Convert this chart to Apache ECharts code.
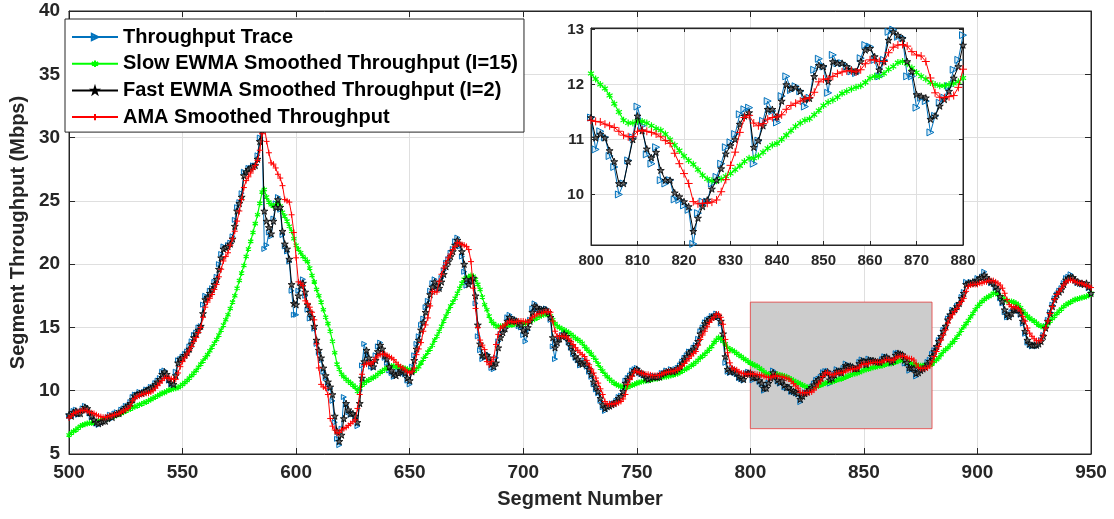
<!DOCTYPE html>
<html>
<head>
<meta charset="utf-8">
<script src="https://cdn.jsdelivr.net/npm/echarts@6/dist/echarts.min.js"></script>
<style>
  html, body { margin: 0; padding: 0; background: #fff; }
  #chart { width: 1114px; height: 519px; }
</style>
</head>
<body>
<div id="chart"></div>
<script>
// Segment numbers run from 500 to 950, one value per segment.
const firstSegment = 500;

// Raw per-segment throughput (Mbps)
const throughputTrace = [
  8.0, 7.9, 8.4, 8.5, 8.1, 8.2, 8.6, 8.8, 8.5, 8.2,
  7.9, 7.6, 7.4, 7.3, 7.5, 7.6, 7.6, 7.9, 8.1, 7.8,
  8.2, 8.3, 8.1, 8.5, 8.6, 8.8, 8.8, 9.1, 9.5, 9.7,
  9.7, 9.9, 9.7, 9.9, 10.1, 10.1, 10.3, 10.3, 10.6, 10.8,
  11.0, 11.5, 11.6, 11.2, 10.8, 10.5, 10.4, 11.5, 12.4, 12.5,
  12.7, 12.9, 13.1, 13.5, 13.9, 14.4, 14.6, 15.0, 15.1, 16.8,
  17.5, 17.4, 17.9, 18.1, 18.6, 19.0, 20.0, 20.8, 21.4, 21.3,
  21.5, 21.7, 22.2, 23.5, 24.5, 24.9, 25.6, 27.3, 27.2, 27.6,
  27.6, 27.8, 27.8, 28.6, 30.0, 30.9, 21.2, 21.5, 22.5, 22.2,
  23.6, 24.8, 25.3, 24.3, 22.3, 21.4, 21.0, 20.2, 17.9, 16.0,
  16.0, 17.9, 18.5, 18.8, 17.5, 16.4, 15.7, 15.8, 14.9, 13.7,
  13.0, 12.4, 11.5, 11.0, 10.5, 10.2, 9.2, 7.5, 6.2, 5.7,
  7.0, 9.5, 8.9, 8.3, 8.1, 8.2, 7.8, 7.2, 10.0, 12.0,
  13.7, 12.8, 12.3, 11.9, 11.8, 12.8, 13.5, 13.8, 13.0, 12.6,
  12.2, 11.6, 11.4, 11.1, 11.2, 11.6, 11.7, 11.4, 11.3, 10.8,
  10.5, 11.9, 12.8, 13.7, 14.3, 15.2, 15.7, 16.6, 17.1, 17.9,
  18.5, 18.8, 18.1, 18.0, 18.9, 19.5, 20.1, 20.4, 20.9, 21.2,
  21.8, 22.1, 21.4, 20.6, 19.4, 18.3, 18.5, 18.9, 18.8, 16.9,
  14.3, 13.2, 12.5, 12.7, 12.9, 12.4, 11.8, 11.7, 12.6, 13.9,
  14.5, 14.8, 15.1, 15.8, 16.0, 15.3, 15.7, 15.4, 15.1, 15.0,
  14.4, 13.9, 14.8, 15.6, 16.5, 16.9, 16.5, 16.3, 16.5, 16.3,
  16.5, 16.1, 15.6, 13.5, 12.5, 13.9, 14.2, 14.4, 14.6, 14.2,
  13.8, 13.4, 12.9, 12.6, 12.4, 12.0, 12.1, 12.4, 11.9, 11.5,
  11.1, 10.5, 10.1, 9.8, 9.2, 8.7, 8.4, 8.8, 8.8, 9.0,
  9.0, 9.2, 9.5, 9.6, 10.1, 10.8, 11.0, 11.2, 11.6, 11.7,
  11.8, 11.4, 11.3, 11.2, 10.9, 10.8, 11.0, 11.2, 11.1, 11.0,
  11.2, 11.4, 11.4, 11.6, 11.4, 11.7, 11.5, 11.7, 11.8, 12.0,
  12.3, 12.6, 12.8, 13.1, 13.1, 13.4, 13.6, 14.1, 14.7, 15.0,
  15.4, 15.6, 15.7, 15.9, 15.9, 16.1, 15.8, 15.3, 14.0, 12.2,
  11.5, 11.4, 11.8, 11.4, 11.3, 11.0, 10.9, 10.8, 11.4, 11.5,
  11.4, 10.82, 11.15, 11.04, 10.7, 10.5, 10.0, 10.2, 10.62, 11.04,
  11.6, 11.25, 10.73, 10.56, 10.86, 10.26, 10.2, 10.26, 9.91, 9.9,
  9.8, 9.72, 9.1, 9.66, 9.87, 9.87, 10.2, 10.32, 10.56, 10.86,
  10.95, 11.1, 11.46, 11.55, 11.58, 10.56, 10.98, 11.34, 11.7, 11.52,
  11.31, 11.79, 12.15, 11.9, 11.97, 11.88, 11.6, 11.76, 12.27, 12.47,
  12.33, 11.85, 12.54, 12.39, 12.39, 12.33, 12.24, 12.21, 12.48, 12.72,
  12.69, 12.45, 12.15, 12.45, 12.96, 13.0, 12.87, 12.85, 12.15, 12.15,
  11.58, 11.76, 11.7, 11.13, 11.43, 11.67, 11.76, 11.97, 12.27, 12.45,
  12.9, 13.2, 13.4, 14.0, 14.2, 14.8, 15.0, 15.7, 15.9, 16.4,
  16.3, 16.7, 16.8, 17.4, 17.8, 18.6, 18.4, 18.6, 18.5, 18.6,
  18.9, 18.8, 19.0, 19.4, 18.8, 18.7, 18.5, 18.6, 18.1, 17.9,
  17.3, 16.9, 16.2, 15.8, 15.8, 16.2, 16.5, 16.5, 16.3, 16.0,
  15.3, 14.5, 13.8, 13.6, 13.5, 13.6, 13.5, 13.8, 14.0, 14.4,
  15.1, 15.6, 16.2, 16.8, 17.3, 17.6, 17.9, 18.1, 18.5, 18.9,
  19.0, 19.2, 18.9, 18.7, 18.5, 18.6, 18.4, 18.5, 18.4, 18.1, 17.6
];

// Slow EWMA (l = 15)
const slowEwma = [
  6.5, 6.65, 6.8, 6.9, 7.05, 7.2, 7.3, 7.35, 7.4, 7.45,
  7.45, 7.5, 7.55, 7.6, 7.65, 7.7, 7.75, 7.8, 7.9, 7.95,
  8.0, 8.1, 8.15, 8.25, 8.3, 8.4, 8.5, 8.55, 8.65, 8.75,
  8.8, 8.9, 8.95, 9.05, 9.1, 9.2, 9.3, 9.4, 9.5, 9.6,
  9.7, 9.8, 9.85, 9.95, 10.05, 10.1, 10.15, 10.2, 10.25, 10.35,
  10.5, 10.65, 10.8, 11.0, 11.2, 11.4, 11.6, 11.85, 12.1, 12.35,
  12.6, 12.85, 13.15, 13.45, 13.75, 14.05, 14.4, 14.8, 15.2, 15.6,
  16.0, 16.5, 17.0, 17.5, 18.1, 18.7, 19.3, 19.9, 20.6, 21.2,
  21.8, 22.5, 23.2, 23.9, 24.8, 25.7, 25.9, 25.3, 24.9, 24.7,
  24.6, 24.7, 24.9, 24.6, 24.1, 23.8, 23.4, 23.0, 22.6, 22.0,
  21.5, 21.2, 20.9, 20.6, 20.4, 20.2, 19.7, 19.1, 18.6, 18.0,
  17.5, 17.0, 16.4, 15.8, 15.3, 14.7, 13.9, 13.0, 12.1, 11.7,
  11.3, 11.1, 10.9, 10.75, 10.6, 10.45, 10.3, 9.95, 10.2, 10.45,
  10.6, 10.75, 10.85, 10.95, 11.05, 11.15, 11.3, 11.45, 11.55, 11.7,
  11.8, 11.9, 11.95, 11.95, 11.9, 11.9, 11.85, 11.8, 11.75, 11.7,
  11.65, 11.6, 11.55, 11.7, 11.9, 12.2, 12.5, 12.75, 13.05, 13.3,
  13.6, 14.0, 14.3, 14.7, 15.1, 15.5, 15.9, 16.3, 16.7, 17.0,
  17.3, 17.7, 18.1, 18.5, 18.8, 18.9, 19.0, 19.1, 19.05, 18.8,
  18.4, 18.0, 17.4, 16.8, 16.4, 15.9, 15.5, 15.3, 15.1, 15.1,
  15.1, 15.1, 15.15, 15.2, 15.2, 15.2, 15.25, 15.3, 15.3, 15.3,
  15.3, 15.35, 15.4, 15.5, 15.6, 15.65, 15.75, 15.85, 15.95, 16.0,
  16.05, 16.0, 15.9, 15.6, 15.3, 15.1, 15.0, 14.9, 14.8, 14.7,
  14.6, 14.45, 14.3, 14.15, 14.05, 13.9, 13.75, 13.5, 13.3, 13.1,
  12.9, 12.65, 12.4, 12.1, 11.8, 11.55, 11.3, 11.1, 10.9, 10.75,
  10.6, 10.5, 10.4, 10.35, 10.3, 10.25, 10.3, 10.35, 10.45, 10.5,
  10.6, 10.65, 10.7, 10.75, 10.8, 10.8, 10.85, 10.9, 10.95, 10.95,
  11.0, 11.05, 11.1, 11.1, 11.15, 11.2, 11.25, 11.3, 11.35, 11.45,
  11.55, 11.65, 11.75, 11.85, 12.0, 12.1, 12.25, 12.4, 12.6, 12.75,
  12.9, 13.1, 13.3, 13.5, 13.8, 14.0, 14.2, 14.1, 13.9, 13.7,
  13.4, 13.3, 13.2, 13.1, 12.95, 12.8, 12.7, 12.55, 12.45, 12.3,
  12.2, 12.1, 12.0, 11.93, 11.8, 11.65, 11.5, 11.35, 11.3, 11.3,
  11.33, 11.33, 11.3, 11.25, 11.2, 11.17, 11.1, 11.0, 10.9, 10.8,
  10.7, 10.62, 10.55, 10.45, 10.35, 10.28, 10.25, 10.25, 10.28, 10.33,
  10.38, 10.45, 10.52, 10.6, 10.66, 10.66, 10.7, 10.77, 10.84, 10.9,
  10.93, 11.0, 11.08, 11.16, 11.24, 11.3, 11.35, 11.38, 11.45, 11.53,
  11.62, 11.68, 11.72, 11.77, 11.84, 11.88, 11.92, 11.95, 11.98, 12.04,
  12.12, 12.15, 12.15, 12.2, 12.28, 12.33, 12.4, 12.42, 12.38, 12.3,
  12.22, 12.15, 12.1, 12.04, 12.0, 11.98, 11.98, 12.0, 12.02, 12.05,
  12.12, 12.3, 12.45, 12.6, 12.85, 13.1, 13.25, 13.4, 13.6, 13.8,
  14.0, 14.25, 14.5, 14.8, 15.05, 15.3, 15.55, 15.85, 16.1, 16.4,
  16.65, 16.85, 17.05, 17.2, 17.35, 17.45, 17.55, 17.7, 17.7, 17.6,
  17.45, 17.35, 17.2, 17.1, 17.05, 17.05, 17.0, 16.9, 16.8, 16.55,
  16.3, 16.1, 15.9, 15.75, 15.6, 15.5, 15.35, 15.2, 15.1, 15.05,
  15.15, 15.3, 15.5, 15.7, 15.9, 16.1, 16.3, 16.45, 16.65, 16.8,
  16.9, 17.0, 17.1, 17.2, 17.25, 17.3, 17.35, 17.4, 17.45, 17.55, 17.7
];

// Fast EWMA (l = 2)
const fastEwma = [
  8.1, 8.0, 8.3, 8.4, 8.2, 8.2, 8.5, 8.7, 8.6, 8.3,
  8.0, 7.7, 7.5, 7.4, 7.5, 7.6, 7.6, 7.8, 8.0, 7.9,
  8.1, 8.2, 8.2, 8.4, 8.5, 8.7, 8.8, 9.0, 9.3, 9.6,
  9.7, 9.8, 9.8, 9.9, 10.0, 10.1, 10.2, 10.3, 10.5, 10.7,
  10.9, 11.3, 11.5, 11.3, 10.9, 10.6, 10.5, 11.2, 12.2, 12.5,
  12.6, 12.8, 13.0, 13.3, 13.7, 14.2, 14.5, 14.8, 15.1, 16.1,
  17.2, 17.4, 17.7, 18.0, 18.4, 18.8, 19.6, 20.5, 21.2, 21.3,
  21.4, 21.6, 22.0, 23.0, 24.2, 24.8, 25.3, 27.0, 27.3, 27.5,
  27.6, 27.7, 27.8, 28.3, 29.7, 30.6, 24.2, 23.4, 22.9, 22.4,
  23.4, 24.5, 25.1, 24.5, 22.6, 21.6, 21.2, 20.4, 18.4, 16.9,
  16.8, 17.5, 18.3, 18.5, 17.8, 16.8, 16.2, 15.8, 15.1, 14.0,
  13.2, 12.6, 11.8, 11.2, 10.7, 10.3, 9.7, 8.0, 6.8, 6.0,
  6.5, 7.8, 9.0, 8.5, 8.2, 8.2, 8.0, 7.5, 9.0, 11.0,
  12.3, 13.2, 12.6, 12.2, 11.9, 12.4, 13.1, 13.6, 13.3, 12.8,
  12.5, 11.9, 11.6, 11.3, 11.2, 11.4, 11.6, 11.5, 11.4, 11.0,
  10.8, 11.5, 12.4, 13.3, 14.0, 14.8, 15.4, 16.2, 16.8, 17.6,
  18.2, 18.6, 18.3, 18.1, 18.6, 19.2, 19.8, 20.2, 20.6, 21.0,
  21.5, 21.9, 21.6, 21.0, 20.0, 18.8, 18.4, 18.7, 18.9, 17.5,
  15.2, 13.7, 12.8, 12.7, 12.8, 12.6, 12.1, 11.9, 12.2, 13.4,
  14.2, 14.6, 14.9, 15.5, 15.8, 15.5, 15.6, 15.5, 15.3, 15.2,
  14.8, 14.5, 15.0, 15.5, 16.2, 16.7, 16.6, 16.4, 16.4, 16.4,
  16.4, 16.2, 15.8, 14.2, 13.4, 13.8, 14.1, 14.3, 14.5, 14.3,
  13.9, 13.5, 13.1, 12.7, 12.5, 12.2, 12.1, 12.3, 12.1, 11.7,
  11.3, 10.7, 10.3, 9.95, 9.4, 8.9, 8.6, 8.75, 8.8, 8.9,
  9.0, 9.15, 9.4, 9.55, 9.95, 10.6, 10.9, 11.1, 11.4, 11.6,
  11.7, 11.5, 11.4, 11.3, 11.0, 10.9, 11.0, 11.1, 11.1, 11.06,
  11.1, 11.3, 11.4, 11.5, 11.5, 11.6, 11.5, 11.6, 11.75, 11.9,
  12.2, 12.5, 12.7, 13.0, 13.1, 13.3, 13.5, 13.9, 14.5, 14.9,
  15.3, 15.5, 15.65, 15.8, 15.85, 16.0, 15.9, 15.5, 14.5, 12.7,
  11.7, 11.5, 11.7, 11.5, 11.4, 11.1, 11.0, 10.9, 11.3, 11.4,
  11.4, 11.03, 11.1, 11.03, 10.8, 10.6, 10.2, 10.2, 10.6, 11.0,
  11.43, 11.16, 10.83, 10.67, 10.77, 10.44, 10.26, 10.26, 10.03, 9.96,
  9.87, 9.78, 9.33, 9.57, 9.78, 9.9, 10.1, 10.26, 10.47, 10.74,
  10.89, 11.0, 11.28, 11.43, 11.49, 10.86, 10.98, 11.25, 11.55, 11.55,
  11.41, 11.7, 12.0, 11.93, 11.95, 11.88, 11.73, 11.75, 12.15, 12.35,
  12.33, 12.06, 12.42, 12.39, 12.39, 12.33, 12.27, 12.24, 12.42, 12.63,
  12.66, 12.51, 12.27, 12.42, 12.81, 12.96, 12.9, 12.84, 12.42, 12.24,
  11.82, 11.79, 11.76, 11.37, 11.43, 11.61, 11.73, 11.88, 12.12, 12.33,
  12.72, 13.1, 13.5, 13.9, 14.3, 14.7, 15.1, 15.6, 16.0, 16.3,
  16.4, 16.65, 16.9, 17.3, 17.7, 18.4, 18.5, 18.5, 18.6, 18.5,
  18.75, 18.9, 18.95, 19.15, 18.95, 18.75, 18.6, 18.5, 18.2, 18.0,
  17.45, 17.05, 16.4, 16.0, 15.85, 16.1, 16.4, 16.5, 16.4, 16.1,
  15.5, 14.7, 14.0, 13.7, 13.6, 13.6, 13.6, 13.7, 13.9, 14.3,
  14.95, 15.5, 16.1, 16.65, 17.2, 17.6, 17.8, 18.0, 18.4, 18.75,
  18.9, 19.0, 18.95, 18.75, 18.6, 18.5, 18.5, 18.4, 18.5, 18.2, 17.7
];

// AMA smoothed throughput
const amaSmoothed = [
  7.85, 8.0, 8.2, 8.3, 8.35, 8.4, 8.45, 8.45, 8.4, 8.3,
  8.25, 8.2, 8.1, 8.0, 7.95, 7.9, 7.9, 7.95, 8.0, 8.05,
  8.1, 8.15, 8.2, 8.3, 8.4, 8.5, 8.6, 8.8, 9.2, 9.4,
  9.55, 9.6, 9.7, 9.75, 9.8, 9.8, 9.9, 10.0, 10.2, 10.4,
  10.6, 10.8, 11.0, 11.05, 11.0, 10.95, 10.9, 10.9, 11.4, 11.9,
  12.3, 12.6, 12.9, 13.2, 13.5, 13.9, 14.2, 14.6, 15.0, 15.8,
  16.6, 17.0, 17.3, 17.6, 18.0, 18.4, 19.0, 19.6, 20.25, 20.6,
  20.9, 21.5, 22.0, 22.6, 23.4, 24.2, 25.1, 26.05, 26.6, 26.9,
  27.2, 27.5, 27.8, 28.2, 29.0, 30.3, 30.9, 29.7, 28.8, 28.0,
  27.9, 27.6, 27.1, 26.8, 26.2, 25.1, 25.0, 24.9, 23.9, 22.5,
  20.5, 18.6, 18.5, 18.3, 17.1, 16.9, 16.6, 16.2, 15.6, 13.7,
  11.8, 10.5, 10.3, 10.2, 9.7, 7.8, 7.2, 6.9, 6.65, 6.7,
  6.9, 7.0, 7.1, 7.25, 7.4, 7.55, 7.7, 8.6, 9.7, 11.3,
  12.05, 12.1, 12.2, 12.1, 12.3, 12.6, 12.75, 12.85, 12.9, 12.9,
  12.8, 12.7, 12.6, 12.45, 12.25, 12.05, 11.9, 11.8, 11.65, 11.5,
  11.4, 11.5, 11.8, 12.85, 13.3, 13.8, 14.7, 15.2, 15.75, 16.7,
  17.85, 17.8, 17.8, 18.65, 19.2, 19.7, 20.1, 20.5, 20.8, 21.15,
  21.4, 21.7, 21.65, 21.55, 21.5, 21.4, 21.15, 20.2, 18.1, 16.5,
  15.0, 14.0, 13.6, 13.25, 12.3, 12.05, 12.3, 12.6, 13.65, 14.45,
  14.95, 15.1, 15.2, 15.35, 15.5, 15.45, 15.4, 15.45, 15.5, 15.5,
  15.5, 15.45, 15.4, 15.6, 15.8, 15.9, 16.05, 16.1, 16.1, 16.2,
  16.25, 16.25, 16.2, 15.5, 14.7, 14.3, 14.3, 14.3, 14.3, 14.25,
  14.1, 13.9, 13.65, 13.4, 13.2, 13.0, 12.85, 12.7, 12.4, 12.05,
  11.7, 11.4, 11.0, 10.6, 10.15, 9.7, 9.15, 8.95, 8.95, 8.95,
  8.95, 9.0, 9.05, 9.15, 9.35, 9.7, 10.5, 10.9, 11.15, 11.55,
  11.5, 11.45, 11.4, 11.35, 11.3, 11.3, 11.25, 11.2, 11.2, 11.2,
  11.25, 11.3, 11.4, 11.45, 11.5, 11.5, 11.55, 11.6, 11.65, 11.8,
  11.95, 12.15, 12.35, 12.55, 12.75, 12.95, 13.1, 13.6, 14.05, 14.4,
  14.7, 15.05, 15.4, 15.6, 15.8, 16.05, 16.05, 15.8, 15.25, 14.05,
  13.0, 12.2, 11.8, 11.7, 11.65, 11.5, 11.4, 11.35, 11.3, 11.3,
  11.35, 11.33, 11.32, 11.28, 11.25, 11.22, 11.15, 11.08, 11.05, 11.05,
  11.15, 11.17, 11.15, 11.13, 11.1, 11.05, 10.98, 10.93, 10.75, 10.56,
  10.38, 10.2, 9.87, 9.83, 9.84, 9.84, 9.86, 9.9, 10.05, 10.27,
  10.53, 10.77, 11.13, 11.4, 11.44, 11.3, 11.25, 11.29, 11.37, 11.4,
  11.41, 11.45, 11.55, 11.62, 11.66, 11.7, 11.74, 11.76, 11.86, 12.05,
  12.1, 12.1, 12.15, 12.2, 12.23, 12.25, 12.25, 12.23, 12.27, 12.38,
  12.45, 12.45, 12.42, 12.42, 12.58, 12.68, 12.72, 12.73, 12.7, 12.6,
  12.54, 12.52, 12.42, 12.12, 11.85, 11.77, 11.76, 11.78, 11.8, 11.95,
  12.28, 12.7, 13.1, 13.5, 14.0, 14.4, 14.8, 15.35, 15.75, 16.0,
  16.25, 16.5, 16.8, 17.05, 17.3, 17.85, 18.25, 18.35, 18.4, 18.4,
  18.4, 18.5, 18.5, 18.6, 18.6, 18.7, 18.7, 18.7, 18.6, 18.5,
  18.35, 18.1, 17.7, 17.2, 16.8, 16.65, 16.6, 16.6, 16.5, 16.3,
  15.85, 15.5, 14.95, 14.55, 14.3, 14.1, 13.95, 13.95, 14.0, 14.4,
  14.95, 15.5, 16.1, 16.65, 17.2, 17.6, 17.85, 18.1, 18.35, 18.6,
  18.7, 18.75, 18.7, 18.6, 18.55, 18.5, 18.5, 18.4, 18.3, 18.25, 18.15
];

// Highlighted window (segments) and its throughput band (Mbps)
const zoomSegments = [800, 880];
const zoomBand = [7, 17];

// Axis ranges and ticks
const mainXRange = [500, 950];
const mainYRange = [5, 40];
const insetYRange = [9.08, 13.03];
const insetYTicks = [10, 11, 12, 13];

const seriesNames = [
  'Throughput Trace',
  'Slow EWMA Smoothed Throughput (I=15)',
  'Fast EWMA Smoothed Throughput (I=2)',
  'AMA Smoothed Throughput'
];

const segments = throughputTrace.map((_, i) => firstSegment + i);
const toPairs = values => values.map((v, i) => [segments[i], v]);
const toZoomPairs = values => toPairs(values).filter(p => p[0] >= zoomSegments[0] && p[0] <= zoomSegments[1]);

const STAR = 'path://M0,-1L0.2245,-0.309L0.951,-0.309L0.363,0.118L0.588,0.809L0,0.382L-0.588,0.809L-0.363,0.118L-0.951,-0.309L-0.2245,-0.309Z';
const PLUS = 'path://M0,-1L0,1M-1,0L1,0';
const ASTERISK = 'path://M0,-1L0,1M-0.866,-0.5L0.866,0.5M-0.866,0.5L0.866,-0.5';

const FONT = 'Liberation Sans, Arial, Helvetica, sans-serif';
const AXIS_COLOR = '#262626';
const GRID_COLOR = '#dfdfdf';

// Marker and line styling per series: [main size, inset size]
const styles = [
  { color: '#0072BD', symbol: 'triangle', rotate: -90, size: [5, 7], width: 1, fill: 'rgba(0,114,189,0.15)', border: 1 },
  { color: '#00FF00', symbol: ASTERISK, rotate: 0, size: [6, 7], width: 1.2, fill: '#00FF00', border: 1.2 },
  { color: '#000000', symbol: STAR, rotate: 0, size: [7, 7], width: 1, fill: '#666666', border: 0.8 },
  { color: '#FF0000', symbol: PLUS, rotate: 0, size: [6, 8], width: 1, fill: '#FF0000', border: 1 }
];
const valueSets = [throughputTrace, slowEwma, fastEwma, amaSmoothed];

function makeSeries(k, inset) {
  const s = styles[k];
  return {
    name: seriesNames[k],
    type: 'line',
    xAxisIndex: inset ? 2 : 0,
    yAxisIndex: inset ? 2 : 0,
    data: inset ? toZoomPairs(valueSets[k]) : toPairs(valueSets[k]),
    symbol: s.symbol,
    symbolRotate: s.rotate,
    symbolSize: inset ? s.size[1] : s.size[0],
    symbolKeepAspect: true,
    showAllSymbol: true,
    clip: true,
    z: inset ? 6 + k * 0.01 : 2 + k * 0.01,
    lineStyle: { color: s.color, width: s.width },
    itemStyle: { color: s.fill, borderColor: s.color, borderWidth: s.border },
    emphasis: { disabled: true },
    animation: false
  };
}

const textFont = size => ({ fontFamily: FONT, fontWeight: 'bold', fontSize: size, color: AXIS_COLOR });

const option = {
  animation: false,
  backgroundColor: '#ffffff',
  grid: [
    { left: 63, right: 23, top: 11, bottom: 65, show: true, backgroundColor: 'transparent', borderColor: AXIS_COLOR, borderWidth: 1 },
    { left: 591, right: 151, top: 28, bottom: 274, show: true, backgroundColor: '#ffffff', borderColor: AXIS_COLOR, borderWidth: 1, z: 4 }
  ],
  legend: {
    data: seriesNames,
    orient: 'vertical',
    left: 65,
    top: 19,
    padding: [8, 6, 5, 6],
    itemGap: 6.7,
    itemWidth: 46,
    itemHeight: 8,
    backgroundColor: '#ffffff',
    borderColor: AXIS_COLOR,
    borderWidth: 1,
    borderRadius: 0,
    z: 8,
    textStyle: { fontFamily: FONT, fontWeight: 'bold', fontSize: 20, color: '#000', lineHeight: 20 }
  },
  xAxis: [
    {
      gridIndex: 0, type: 'value', position: 'bottom', min: mainXRange[0], max: mainXRange[1], interval: 50,
      name: 'Segment Number', nameLocation: 'middle', nameGap: 35,
      nameTextStyle: textFont(20),
      axisLine: { show: true, lineStyle: { color: AXIS_COLOR } },
      axisTick: { show: true, inside: true, length: 6, lineStyle: { color: AXIS_COLOR } },
      axisLabel: Object.assign({ margin: 9 }, textFont(19)),
      splitLine: { show: true, showMinLine: false, showMaxLine: false, lineStyle: { color: GRID_COLOR } }
    },
    {
      gridIndex: 0, type: 'value', position: 'top', min: mainXRange[0], max: mainXRange[1], interval: 50,
      axisLine: { show: true, lineStyle: { color: AXIS_COLOR } },
      axisTick: { show: true, inside: true, length: 6, lineStyle: { color: AXIS_COLOR } },
      axisLabel: { show: false }, splitLine: { show: false }
    },
    {
      gridIndex: 1, type: 'value', position: 'bottom', min: zoomSegments[0], max: zoomSegments[1], interval: 10, z: 5,
      axisLine: { show: true, lineStyle: { color: AXIS_COLOR } },
      axisTick: { show: true, inside: true, length: 4, lineStyle: { color: AXIS_COLOR } },
      axisLabel: Object.assign({ margin: 8 }, textFont(15)),
      splitLine: { show: true, showMinLine: false, showMaxLine: false, lineStyle: { color: GRID_COLOR } }
    },
    {
      gridIndex: 1, type: 'value', position: 'top', min: zoomSegments[0], max: zoomSegments[1], interval: 10, z: 5,
      axisLine: { show: true, lineStyle: { color: AXIS_COLOR } },
      axisTick: { show: true, inside: true, length: 4, lineStyle: { color: AXIS_COLOR } },
      axisLabel: { show: false }, splitLine: { show: false }
    }
  ],
  yAxis: [
    {
      gridIndex: 0, type: 'value', position: 'left', min: mainYRange[0], max: mainYRange[1], interval: 5,
      name: 'Segment Throughput (Mbps)', nameLocation: 'middle', nameGap: 33, nameRotate: 90,
      nameTextStyle: textFont(20),
      axisLine: { show: true, lineStyle: { color: AXIS_COLOR } },
      axisTick: { show: true, inside: true, length: 6, lineStyle: { color: AXIS_COLOR } },
      axisLabel: Object.assign({ margin: 9 }, textFont(19)),
      splitLine: { show: true, showMinLine: false, showMaxLine: false, lineStyle: { color: GRID_COLOR } }
    },
    {
      gridIndex: 0, type: 'value', position: 'right', min: mainYRange[0], max: mainYRange[1], interval: 5,
      axisLine: { show: true, lineStyle: { color: AXIS_COLOR } },
      axisTick: { show: true, inside: true, length: 6, lineStyle: { color: AXIS_COLOR } },
      axisLabel: { show: false }, splitLine: { show: false }
    },
    {
      gridIndex: 1, type: 'value', position: 'left', min: insetYRange[0], max: insetYRange[1], z: 5,
      axisLine: { show: true, lineStyle: { color: AXIS_COLOR } },
      axisTick: { show: true, inside: true, length: 4, customValues: insetYTicks, lineStyle: { color: AXIS_COLOR } },
      axisLabel: Object.assign({ margin: 7, customValues: insetYTicks }, textFont(15)),
      splitLine: { show: true, lineStyle: { color: GRID_COLOR } }
    },
    {
      gridIndex: 1, type: 'value', position: 'right', min: insetYRange[0], max: insetYRange[1], z: 5,
      axisLine: { show: true, lineStyle: { color: AXIS_COLOR } },
      axisTick: { show: true, inside: true, length: 4, customValues: insetYTicks, lineStyle: { color: AXIS_COLOR } },
      axisLabel: { show: false }, splitLine: { show: false }
    }
  ],
  series: [
    {
      type: 'line', xAxisIndex: 0, yAxisIndex: 0, data: [], silent: true, z: 1,
      markArea: {
        silent: true,
        itemStyle: { color: '#cccccc', borderColor: 'rgba(230,60,60,0.8)', borderWidth: 1 },
        data: [[
          { coord: [zoomSegments[0], zoomBand[0]] },
          { coord: [zoomSegments[1], zoomBand[1]] }
        ]]
      }
    },
    makeSeries(0, false), makeSeries(1, false), makeSeries(2, false), makeSeries(3, false),
    makeSeries(0, true), makeSeries(1, true), makeSeries(2, true), makeSeries(3, true)
  ]
};

const chart = echarts.init(document.getElementById('chart'), null, { renderer: 'canvas' });
chart.setOption(option);
</script>
</body>
</html>
